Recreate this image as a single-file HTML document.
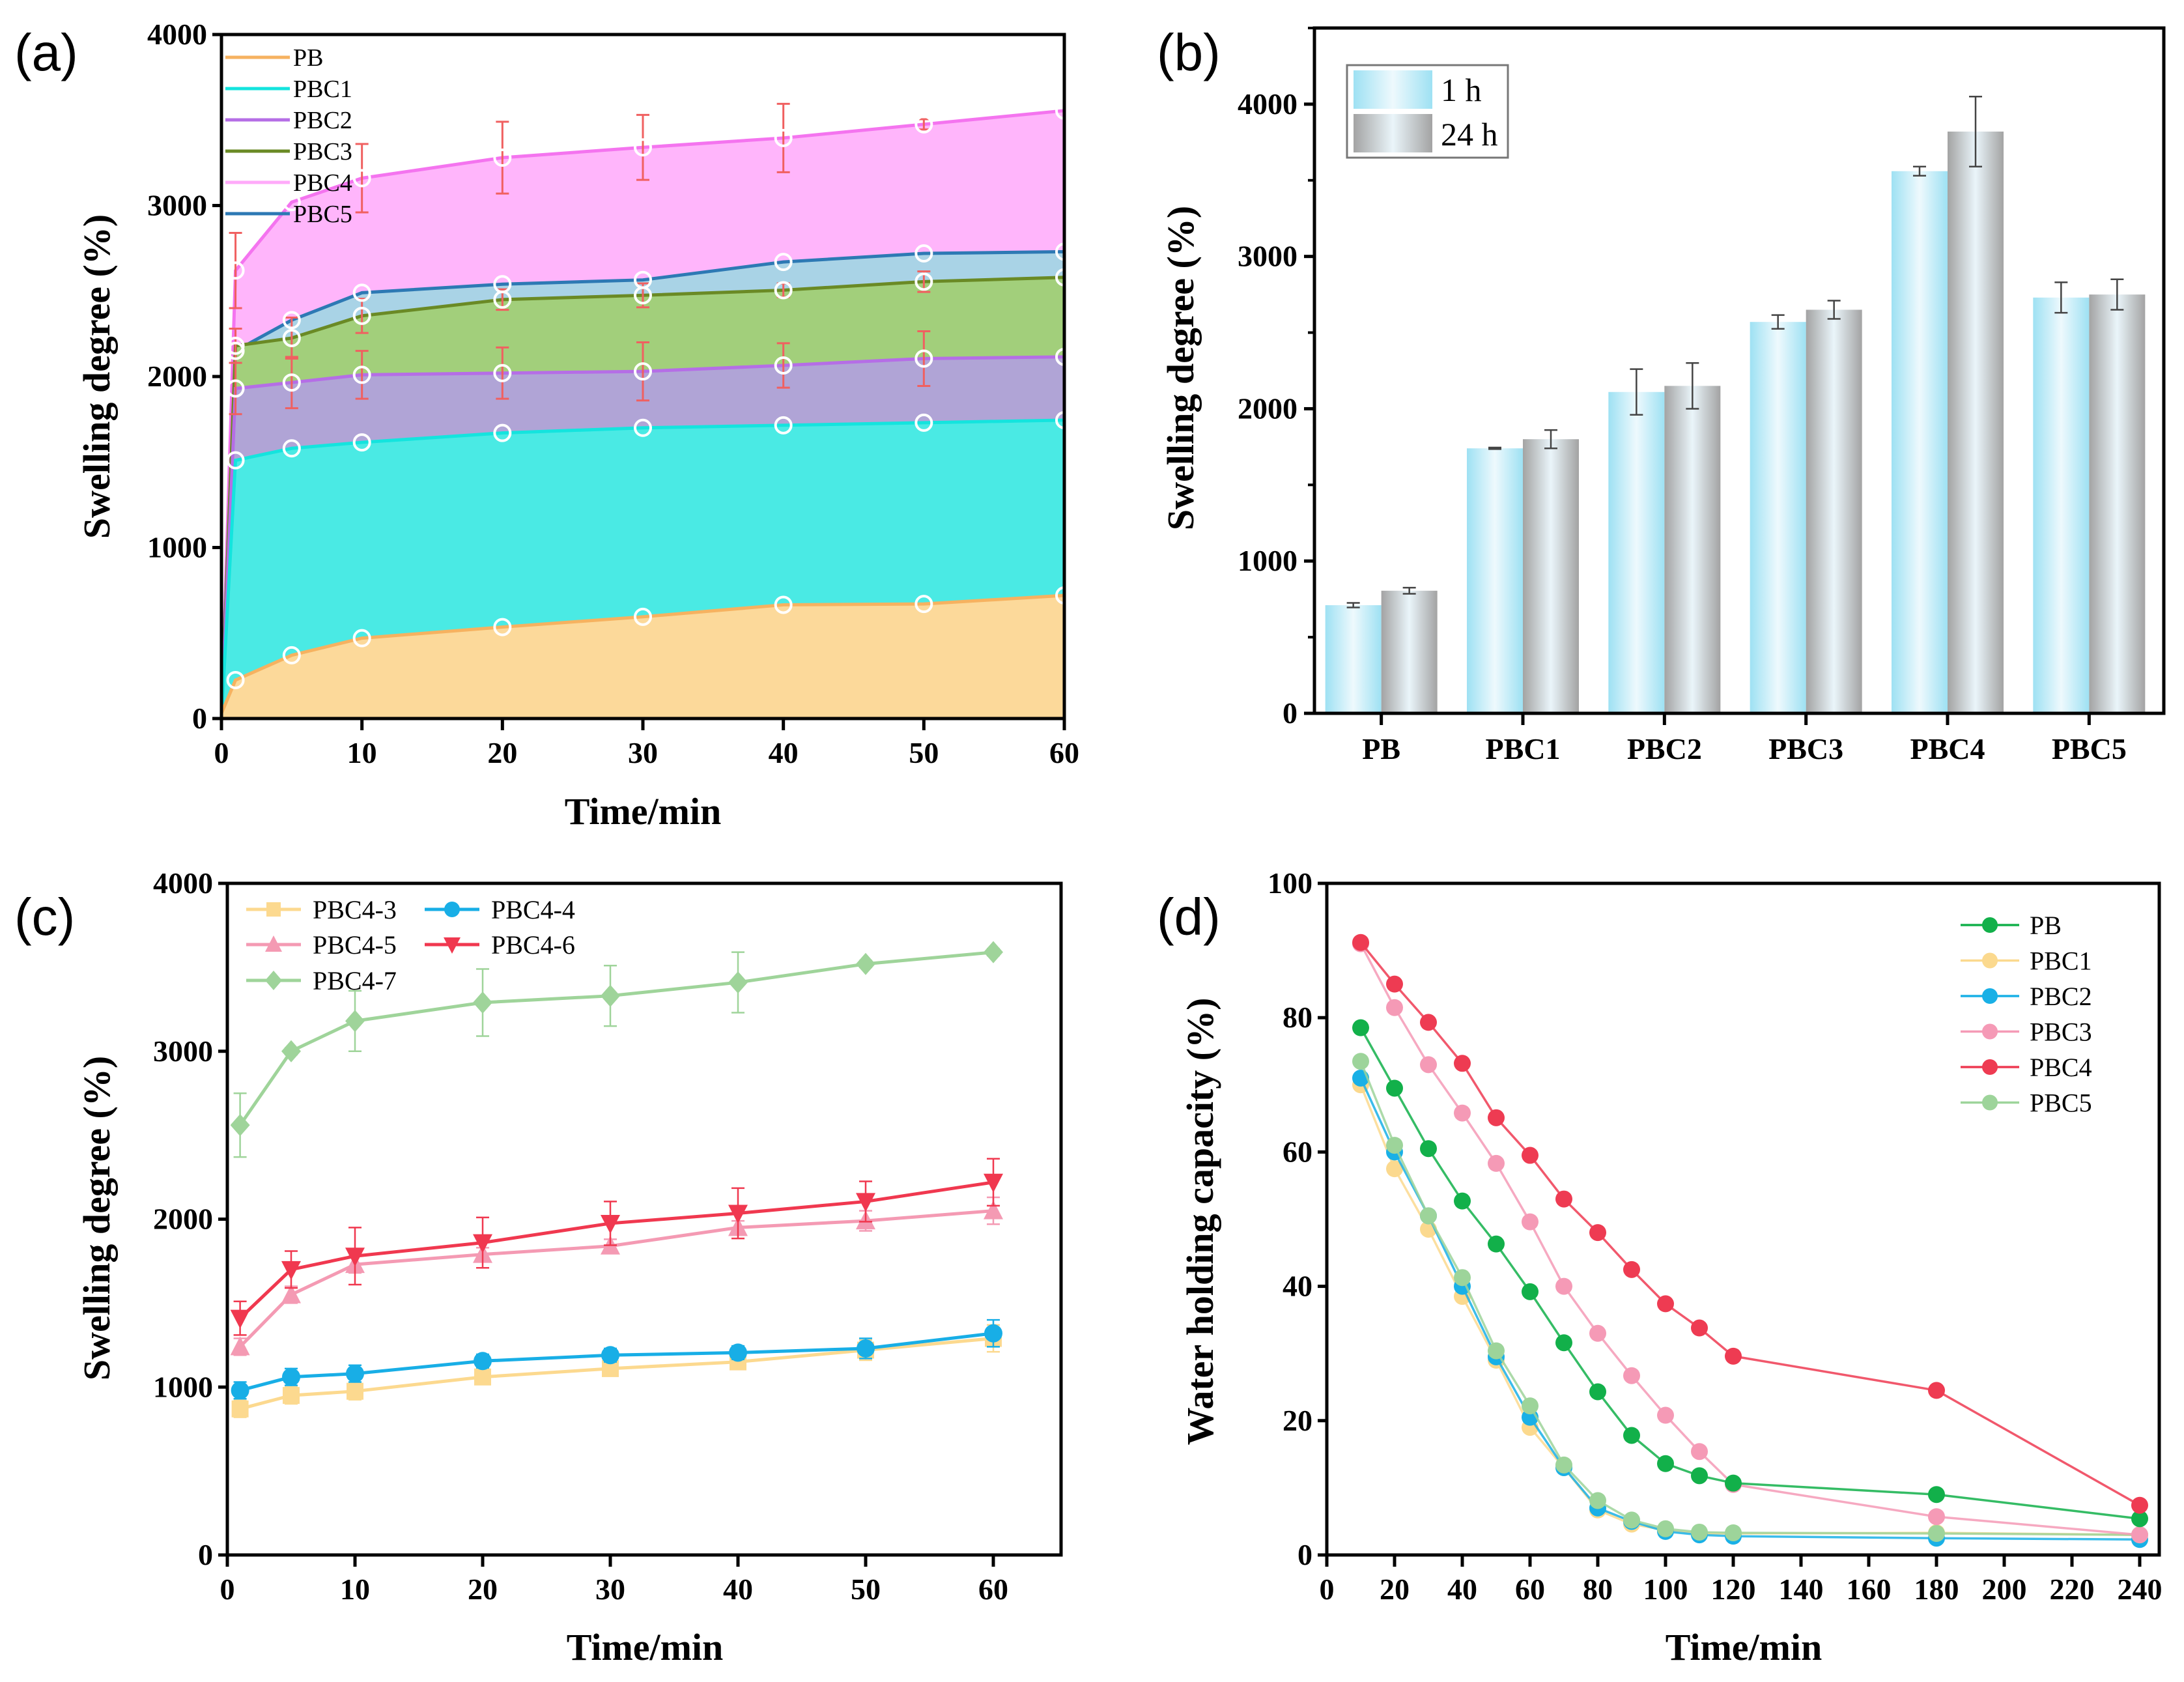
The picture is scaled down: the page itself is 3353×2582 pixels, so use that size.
<!DOCTYPE html>
<html><head><meta charset="utf-8"><style>
html,body{margin:0;padding:0;background:#fff}
svg{display:block}
text{font-family:"Liberation Serif",serif}
.tk{font-weight:bold;font-size:46px}
.ttl{font-weight:bold;font-size:58px}
.pl{font-family:"Liberation Sans",sans-serif;font-size:80px}
.lg{font-size:38px}
</style></head><body>
<svg id="s" width="3353" height="2582" viewBox="0 0 3353 2582" xmlns="http://www.w3.org/2000/svg">
<defs>
<linearGradient id="g1" x1="0" x2="1" y1="0" y2="0"><stop offset="0" stop-color="#9ee1f3"/><stop offset="0.5" stop-color="#eef9fd"/><stop offset="1" stop-color="#9ee1f3"/></linearGradient>
<linearGradient id="g2" x1="0" x2="1" y1="0" y2="0"><stop offset="0" stop-color="#a3a3a3"/><stop offset="0.5" stop-color="#eaf5fa"/><stop offset="1" stop-color="#a3a3a3"/></linearGradient>
</defs>
</svg>
<script>
// ---------- Panel (a) data ----------
const aTimes=[0,1,5,10,20,30,40,50,60];
const aPB=[30,225,370,470,535,595,665,670,720];
const aPBC1=[0,1510,1580,1615,1670,1700,1715,1730,1745];
const aPBC2=[0,1930,1965,2010,2020,2030,2065,2105,2115];
const aPBC3=[0,2180,2225,2355,2450,2475,2505,2555,2580];
const aPBC5=[0,2150,2330,2490,2540,2565,2670,2720,2730];
const aPBC4=[0,2620,3020,3160,3280,3340,3395,3475,3555];
const aPBC4err=[0,220,0,200,210,190,200,30,0];
const aPBC3err=[0,100,120,100,60,70,40,60,0];
const aPBC2err=[0,150,150,140,150,170,130,160,0];
const aNames=["PB","PBC1","PBC2","PBC3","PBC4","PBC5"];
const aYTicks=[0,1000,2000,3000,4000];
const aXTicks=[0,10,20,30,40,50,60];
// ---------- Panel (b) data ----------
const bCats=["PB","PBC1","PBC2","PBC3","PBC4","PBC5"];
const b1h=[710,1740,2110,2570,3560,2730];
const b1hErr=[15,5,150,45,30,100];
const b24h=[805,1800,2150,2650,3820,2750];
const b24hErr=[20,60,150,60,230,100];
const bYTicks=[0,1000,2000,3000,4000];
// ---------- Panel (c) data ----------
const cTimes=[1,5,10,20,30,40,50,60];
const cPBC43=[870,950,975,1060,1110,1150,1220,1290];
const cPBC44=[980,1060,1080,1155,1190,1205,1230,1320];
const cPBC45=[1240,1550,1730,1790,1840,1950,1990,2050];
const cPBC46=[1410,1700,1780,1860,1975,2035,2105,2220];
const cPBC47=[2560,3000,3180,3290,3330,3410,3520,3590];
const cErrSmall=[50,50,50,40,40,40,60,80];
const cErr46=[100,110,170,150,130,150,120,140];
const cErr47=[190,20,180,200,180,180,20,20];
const cYTicks=[0,1000,2000,3000,4000];
const cXTicks=[0,10,20,30,40,50,60];
// ---------- Panel (d) data ----------
const dTimes=[10,20,30,40,50,60,70,80,90,100,110,120,180,240];
const dPB=[78.5,69.5,60.5,52.7,46.3,39.2,31.6,24.3,17.8,13.6,11.8,10.7,9,5.4];
const dPBC1=[70,57.5,48.5,38.5,29,19,13,6.7,4.6,3.7,3.2,3.2,3.3,3];
const dPBC2=[71,60,50.5,40,29.5,20.5,13,7,5,3.5,3,2.8,2.5,2.3];
const dPBC3=[91,81.5,73,65.8,58.3,49.6,40,33,26.7,20.8,15.4,10.5,5.7,3];
const dPBC4=[91.2,85,79.3,73.2,65.1,59.5,53,48,42.5,37.4,33.8,29.6,24.5,7.4];
const dPBC5=[73.5,61,50.5,41.3,30.4,22.2,13.4,8.1,5.2,3.9,3.4,3.3,3.2,3];
const dNames=["PB","PBC1","PBC2","PBC3","PBC4","PBC5"];
const dYTicks=[0,20,40,60,80,100];
const dXTicks=[0,20,40,60,80,100,120,140,160,180,200,220,240];

const S=document.getElementById('s');
const NS='http://www.w3.org/2000/svg';
function mk(tag,at,txt,par){const e=document.createElementNS(NS,tag);for(const k in at)e.setAttribute(k,at[k]);if(txt!==undefined)e.textContent=txt;(par||S).appendChild(e);return e;}
function grp(name){const g=mk('g',{});return g;}

function axes(g,L,T,R,B,xs,ys,xt,yt){
  mk('rect',{x:L,y:T,width:R-L,height:B-T,fill:'none',stroke:'#000','stroke-width':5},undefined,g);
  yt.forEach(v=>{const y=ys(v);mk('line',{x1:L-14,x2:L,y1:y,y2:y,stroke:'#000','stroke-width':5},undefined,g);
    const t=mk('text',{x:L-22,y:y+15,'text-anchor':'end',class:'tk'},String(v),g);});
  if(xt) xt.forEach(v=>{const x=xs(v);mk('line',{x1:x,x2:x,y1:B,y2:B+18,stroke:'#000','stroke-width':5},undefined,g);
    const t=mk('text',{x:x,y:B+68,'text-anchor':'middle',class:'tk'},String(v),g);});
}
function title(g,x,y,txt,rot,name){const t=mk('text',{x:x,y:y,'text-anchor':'middle',class:'ttl',transform:rot?`rotate(-90 ${x} ${y})`:''},txt,g);}
function plabel(x,y,txt){const t=mk('text',{x:x,y:y,class:'pl'},txt);}
function ebar(g,x,v,e,ys,col,w){const y1=ys(v-e),y2=ys(v+e);
 const el=mk('path',{d:`M${x},${y1} L${x},${y2} M${x-10},${y1} L${x+10},${y1} M${x-10},${y2} L${x+10},${y2}`,stroke:col,'stroke-width':w,fill:'none'},undefined,g);}

// ===== Panel (a) =====
(function(){
 const g=grp('panel-a');
 const L=340,R=1634,T=53,B=1103;
 const xs=v=>L+(R-L)*v/60, ys=v=>B-(B-T)*v/4000;
 const series=[[aPBC4,'#ffb5fb','#f474ef','PBC4'],[aPBC5,'#a9d3e6','#2d79b4','PBC5'],[aPBC3,'#a2cf7b','#6a8a25','PBC3'],[aPBC2,'#b0a4d6','#b56ee6','PBC2'],[aPBC1,'#4aeae4','#14e4de','PBC1'],[aPB,'#fcd99a','#f6b260','PB']];
 series.forEach(s=>{
  let d=`M${xs(aTimes[0])},${ys(0)}`;aTimes.forEach((t,i)=>d+=` L${xs(t)},${ys(s[0][i])}`);d+=` L${xs(60)},${ys(0)} Z`;
  const a=mk('path',{d:d,fill:s[1]},undefined,g);
  let p='';aTimes.forEach((t,i)=>p+=(i?' L':'M')+xs(t)+','+ys(s[0][i]));
  const l=mk('path',{d:p,fill:'none',stroke:s[2],'stroke-width':5},undefined,g);
 });
 aTimes.forEach((t,i)=>{
  if(aPBC4err[i]>0)ebar(g,xs(t),aPBC4[i],aPBC4err[i],ys,'#f06060',3);
  if(aPBC3err[i]>0)ebar(g,xs(t),aPBC3[i],aPBC3err[i],ys,'#f06060',3);
  if(aPBC2err[i]>0)ebar(g,xs(t),aPBC2[i],aPBC2err[i],ys,'#f06060',3);
 });
 series.forEach(s=>aTimes.forEach((t,i)=>{if(i>0){const c=mk('circle',{cx:xs(t),cy:ys(s[0][i]),r:12,fill:'none',stroke:'#fff','stroke-width':4},undefined,g);}}));
 axes(g,L,T,R,B,xs,ys,aXTicks,aYTicks);
 const lc={PB:'#f6b260',PBC1:'#14e4de',PBC2:'#b56ee6',PBC3:'#6a8a25',PBC4:'#ffaafa',PBC5:'#2d79b4'};
 aNames.forEach((n,i)=>{const y=88+i*48;const le=grp('legend-entry');g.appendChild(le);
  mk('line',{x1:346,x2:445,y1:y,y2:y,stroke:lc[n],'stroke-width':5},undefined,le);
  mk('text',{x:450,y:y+13,class:'lg'},n,le);});
 title(g,987,1265,'Time/min',false,'x-axis-title');
 title(g,168,578,'Swelling degree (%)',true,'y-axis-title');
})();
plabel(22,108,'(a)');

// ===== Panel (b) =====
(function(){
 const g=grp('panel-b');
 const L=2018,R=3322,T=43,B=1095;
 const ys=v=>B-(B-T)*v/4500;
 const step=(R-L)/6, cx=i=>L+step*(i+0.5)-6, bw=86;
 bCats.forEach((c,i)=>{
  [[b1h,b1hErr,'url(#g1)',-bw,'bar-1h'],[b24h,b24hErr,'url(#g2)',0,'bar-24h']].forEach(s=>{
   const x=cx(i)+s[3],v=s[0][i];
   const r=mk('rect',{x:x,y:ys(v),width:bw,height:B-ys(v),fill:s[2]},undefined,g);
   ebar(g,x+bw/2,v,s[1][i],ys,'#444',2.5);
  });
 });
 mk('rect',{x:L,y:T,width:R-L,height:B-T,fill:'none',stroke:'#000','stroke-width':5},undefined,g);
 bYTicks.forEach(v=>{const y=ys(v);mk('line',{x1:L-16,x2:L,y1:y,y2:y,stroke:'#000','stroke-width':5},undefined,g);
  const t=mk('text',{x:L-26,y:y+15,'text-anchor':'end',class:'tk'},String(v),g);
  const ym=ys(v+500);mk('line',{x1:L-10,x2:L,y1:ym,y2:ym,stroke:'#000','stroke-width':4},undefined,g);});
 bCats.forEach((c,i)=>{const x=cx(i);mk('line',{x1:x,x2:x,y1:B,y2:B+18,stroke:'#000','stroke-width':5},undefined,g);
  const t=mk('text',{x:x,y:B+70,'text-anchor':'middle',class:'tk'},c,g);});
 const lgd=grp('legend');g.appendChild(lgd);
 mk('rect',{x:2068,y:100,width:247,height:142,fill:'#fff',stroke:'#777','stroke-width':3},undefined,lgd);
 mk('rect',{x:2078,y:108,width:121,height:59,fill:'url(#g1)'},undefined,lgd);
 mk('rect',{x:2078,y:175,width:121,height:59,fill:'url(#g2)'},undefined,lgd);
 mk('text',{x:2212,y:155,style:'font-size:50px'},'1 h',lgd);
 mk('text',{x:2212,y:223,style:'font-size:50px'},'24 h',lgd);
 title(g,1832,565,'Swelling degree (%)',true,'y-axis-title');
})();
plabel(1776,108,'(b)');

// ===== Panel (c) =====
(function(){
 const g=grp('panel-c');
 const L=349,R=1629,T=1356,B=2387;
 const xs=v=>L+19.6*v, ys=v=>B-(B-T)*v/4000;
 const ser=[[cPBC43,cErrSmall,'#fcd98f','sq','PBC4-3'],[cPBC44,cErrSmall,'#18aee6','ci','PBC4-4'],[cPBC45,cErrSmall,'#f49ab3','tu','PBC4-5'],[cPBC46,cErr46,'#f0384f','td','PBC4-6'],[cPBC47,cErr47,'#9fd49a','di','PBC4-7']];
 function marker(par,type,x,y,col,s){
  s=s||13;let e;
  if(type==='sq')e=mk('rect',{x:x-s,y:y-s,width:2*s,height:2*s,fill:col},undefined,par);
  else if(type==='ci')e=mk('circle',{cx:x,cy:y,r:s+1,fill:col},undefined,par);
  else if(type==='tu')e=mk('path',{d:`M${x},${y-s-3} L${x+s+2},${y+s} L${x-s-2},${y+s} Z`,fill:col},undefined,par);
  else if(type==='td')e=mk('path',{d:`M${x},${y+s+3} L${x+s+2},${y-s} L${x-s-2},${y-s} Z`,fill:col},undefined,par);
  else e=mk('path',{d:`M${x},${y-s-4} L${x+s+2},${y} L${x},${y+s+4} L${x-s-2},${y} Z`,fill:col},undefined,par);
  
 }
 ser.forEach(s=>{
  cTimes.forEach((t,i)=>ebar(g,xs(t),s[0][i],s[1][i],ys,s[2],2.5));
  let p='';cTimes.forEach((t,i)=>p+=(i?' L':'M')+xs(t)+','+ys(s[0][i]));
  const l=mk('path',{d:p,fill:'none',stroke:s[2],'stroke-width':5},undefined,g);
  cTimes.forEach((t,i)=>marker(g,s[3],xs(t),ys(s[0][i]),s[2]));
 });
 axes(g,L,T,R,B,xs,ys,cXTicks,cYTicks);
 const pos=[[378,1396],[652,1396],[378,1450],[652,1450],[378,1505]];
 ser.forEach((s,i)=>{const le=grp('legend-entry');g.appendChild(le);const [x,y]=pos[i];
  mk('line',{x1:x,x2:x+84,y1:y,y2:y,stroke:s[2],'stroke-width':5},undefined,le);
  marker(le,s[3],x+42,y,s[2],11);
  mk('text',{x:x+102,y:y+14,class:'lg',style:'font-size:40px'},s[4],le);});
 title(g,990,2548,'Time/min',false,'x-axis-title');
 title(g,168,1870,'Swelling degree (%)',true,'y-axis-title');
})();
plabel(22,1435,'(c)');

// ===== Panel (d) =====
(function(){
 const g=grp('panel-d');
 const L=2037,R=3315,T=1356,B=2387;
 const xs=v=>L+5.2*v, ys=v=>B-(B-T)*v/100;
 const cols={PB:'#12b04a',PBC1:'#fbd98e',PBC2:'#19b0e6',PBC3:'#f59ab6',PBC4:'#ee3b52',PBC5:'#9dd49a'};
 const data={PB:dPB,PBC1:dPBC1,PBC2:dPBC2,PBC3:dPBC3,PBC4:dPBC4,PBC5:dPBC5};
 ["PBC1","PBC2","PBC5","PBC3","PB","PBC4"].forEach(n=>{
  let p='';dTimes.forEach((t,i)=>p+=(i?' L':'M')+xs(t)+','+ys(data[n][i]));
  const l=mk('path',{d:p,fill:'none',stroke:cols[n],'stroke-width':3.5,opacity:0.85},undefined,g);
  dTimes.forEach((t,i)=>{const c=mk('circle',{cx:xs(t),cy:ys(data[n][i]),r:13,fill:cols[n]},undefined,g);});
 });
 axes(g,L,T,R,B,xs,ys,dXTicks,dYTicks);
 dNames.forEach((n,i)=>{const y=1420+i*54.5;const le=grp('legend-entry');g.appendChild(le);
  mk('line',{x1:3010,x2:3100,y1:y,y2:y,stroke:cols[n],'stroke-width':3.5},undefined,le);
  mk('circle',{cx:3055,cy:y,r:12,fill:cols[n]},undefined,le);
  mk('text',{x:3116,y:y+14,class:'lg',style:'font-size:40px'},n,le);});
 title(g,2677,2548,'Time/min',false,'x-axis-title');
 title(g,1862,1875,'Water holding capacity (%)',true,'y-axis-title');
})();
plabel(1776,1435,'(d)');
</script>
</body></html>
